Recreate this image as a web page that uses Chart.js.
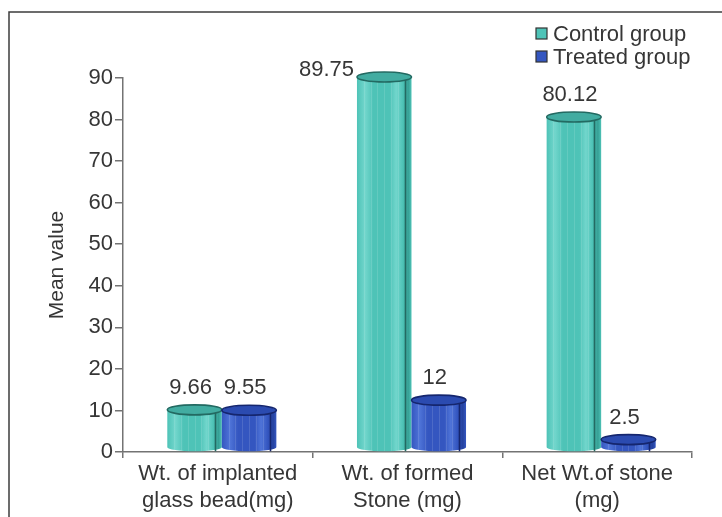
<!DOCTYPE html>
<html>
<head>
<meta charset="utf-8">
<script src="https://cdn.jsdelivr.net/npm/chart.js@4.4.1/dist/chart.umd.min.js"></script>
<style>
    body { margin: 0; background: #fff; }
    #wrap { width: 722px; height: 517px; position: relative; }
</style>
</head>
<body>
<div id="wrap"><canvas id="stoneChart"></canvas></div>
<script>
const categories = [
    ['Wt. of implanted', 'glass bead(mg)'],
    ['Wt. of formed', 'Stone (mg)'],
    ['Net Wt.of stone', '(mg)']
];
const seriesNames = ['Control group', 'Treated group'];
const controlValues = [9.66, 89.75, 80.12];
const treatedValues = [9.55, 12, 2.5];
const valueLabels = [['9.66', '89.75', '80.12'], ['9.55', '12', '2.5']];
const yTicks = [0, 10, 20, 30, 40, 50, 60, 70, 80, 90];

const fontName = '"Liberation Sans", Arial, sans-serif';
const textColor = '#363636';
const axisColor = '#737373';

const cylColors = [
    { light: '#72d6cc', mid: '#4ec3b7', dark: '#36a095', top: '#42ac a1', line: '#236a62' },
    { light: '#4f74d8', mid: '#3456c0', dark: '#25429f', top: '#2b4bb0', line: '#15266e' }
];
cylColors[0].top = '#42aca1';

function drawCylinder(ctx, x, top, base, w, c) {
    const left = x - w / 2, right = x + w / 2;
    const ry = 5, rb = 4;
    const grad = ctx.createLinearGradient(left, 0, right, 0);
    grad.addColorStop(0, c.mid);
    grad.addColorStop(0.15, c.light);
    grad.addColorStop(0.3, c.mid);
    grad.addColorStop(0.6, c.mid);
    grad.addColorStop(0.72, c.light);
    grad.addColorStop(0.84, c.mid);
    grad.addColorStop(0.94, c.dark);
    grad.addColorStop(1, c.mid);

    ctx.save();
    ctx.beginPath();
    ctx.moveTo(left, top);
    ctx.lineTo(left, base - rb);
    ctx.ellipse(x, base - rb, w / 2, rb, 0, Math.PI, 0, true);
    ctx.lineTo(right, top);
    ctx.ellipse(x, top, w / 2, ry, 0, 0, Math.PI, false);
    ctx.closePath();
    ctx.fillStyle = grad;
    ctx.fill();

    // thin vertical stripes
    ctx.save();
    ctx.clip();
    ctx.strokeStyle = 'rgba(255,255,255,0.12)';
    ctx.lineWidth = 1;
    for (let i = 1; i < 8; i++) {
        const sx = Math.round(left + w * i / 8) + 0.5;
        ctx.beginPath();
        ctx.moveTo(sx, top);
        ctx.lineTo(sx, base);
        ctx.stroke();
    }
    ctx.restore();

    ctx.strokeStyle = c.line;
    ctx.lineWidth = 1.6;
    ctx.stroke();

    ctx.beginPath();
    ctx.ellipse(x, top, w / 2, ry, 0, 0, Math.PI * 2);
    ctx.fillStyle = c.top;
    ctx.fill();
    ctx.stroke();
    ctx.restore();
}

const cylinderPlugin = {
    id: 'cylinders',
    beforeDraw(chart) {
        const ctx = chart.ctx;
        ctx.save();
        ctx.strokeStyle = '#3c3c3c';
        ctx.lineWidth = 1.5;
        ctx.beginPath();
        ctx.moveTo(722, 12);
        ctx.lineTo(9, 12);
        ctx.lineTo(9, 517);
        ctx.stroke();
        ctx.restore();
    },
    afterDatasetsDraw(chart) {
        const ctx = chart.ctx;
        chart.data.datasets.forEach((ds, di) => {
            const meta = chart.getDatasetMeta(di);
            meta.data.forEach((bar, i) => {
                const p = bar.getProps(['x', 'y', 'base', 'width'], true);
                drawCylinder(ctx, p.x + 4, p.y - 2, p.base, p.width, cylColors[di]);
            });
        });
        // value labels
        ctx.save();
        ctx.font = '22px ' + fontName;
        ctx.fillStyle = textColor;
        ctx.textBaseline = 'middle';
        chart.data.datasets.forEach((ds, di) => {
            const meta = chart.getDatasetMeta(di);
            meta.data.forEach((bar, i) => {
                const p = bar.getProps(['x', 'y', 'width'], true);
                const txt = valueLabels[di][i];
                if (di === 0 && i === 1) {
                    ctx.textAlign = 'right';
                    ctx.fillText(txt, p.x + 4 - p.width / 2 - 3, p.y - 9);
                } else {
                    ctx.textAlign = 'center';
                    ctx.fillText(txt, p.x, p.y - 24);
                }
            });
        });
        ctx.restore();
    },
    afterDraw(chart) {
        // legend in the top right corner
        const ctx = chart.ctx;
        ctx.save();
        ctx.font = '22px ' + fontName;
        ctx.textBaseline = 'middle';
        ctx.textAlign = 'left';
        seriesNames.forEach((name, i) => {
            const cy = 34 + i * 23;
            ctx.fillStyle = cylColors[i].mid;
            ctx.fillRect(536, cy - 6, 11, 11);
            ctx.strokeStyle = '#333';
            ctx.lineWidth = 1.2;
            ctx.strokeRect(536, cy - 6, 11, 11);
            ctx.fillStyle = textColor;
            ctx.fillText(name, 553, cy + 1);
        });
        ctx.restore();
    }
};

const ctx = document.getElementById('stoneChart').getContext('2d');
const stoneChart = new Chart(ctx, {
    type: 'bar',
    data: {
        labels: categories,
        datasets: [{
            label: seriesNames[0],
            data: controlValues,
            backgroundColor: 'rgba(0,0,0,0)',
            borderWidth: 0
        }, {
            label: seriesNames[1],
            data: treatedValues,
            backgroundColor: 'rgba(0,0,0,0)',
            borderWidth: 0
        }]
    },
    options: {
        responsive: true,
        maintainAspectRatio: false,
        animation: false,
        categoryPercentage: 0.575,
        barPercentage: 1,
        layout: {
            padding: { top: 78, right: 30, bottom: 0, left: 0 }
        },
        plugins: {
            legend: { display: false },
            tooltip: { enabled: false }
        },
        scales: {
            x: {
                afterFit: (scale) => { scale.height = 65; },
                grid: {
                    drawOnChartArea: false,
                    color: axisColor,
                    tickLength: 6,
                    lineWidth: 1.5
                },
                border: { display: true, color: axisColor, width: 1.5 },
                ticks: {
                    color: textColor,
                    padding: 3,
                    maxRotation: 0,
                    font: { family: fontName, size: 22, lineHeight: 1.2 }
                }
            },
            y: {
                min: 0,
                max: 90,
                afterFit: (scale) => { scale.width = 123; },
                afterBuildTicks: (scale) => { scale.ticks = yTicks.map(v => ({ value: v })); },
                grid: {
                    drawOnChartArea: false,
                    color: axisColor,
                    tickLength: 8,
                    lineWidth: 1.5
                },
                border: { display: true, color: axisColor, width: 1.5 },
                ticks: {
                    color: textColor,
                    padding: 2,
                    font: { family: fontName, size: 22 }
                },
                title: {
                    display: true,
                    text: 'Mean value',
                    color: textColor,
                    padding: { top: 45, bottom: 0 },
                    font: { family: fontName, size: 21 }
                }
            }
        }
    },
    plugins: [cylinderPlugin]
});
</script>
</body>
</html>
